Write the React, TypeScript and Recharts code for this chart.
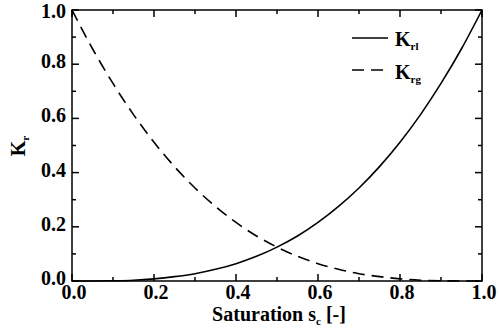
import { LineChart, Line, XAxis, YAxis, ReferenceArea, Legend } from 'recharts';

const saturation = [0, 0.05, 0.1, 0.15, 0.2, 0.25, 0.3, 0.35, 0.4, 0.45, 0.5, 0.55, 0.6, 0.65, 0.7, 0.75, 0.8, 0.85, 0.9, 0.95, 1.0];
const krl = [0, 0.0001, 0.001, 0.003, 0.008, 0.016, 0.027, 0.043, 0.064, 0.091, 0.125, 0.166, 0.216, 0.275, 0.343, 0.422, 0.512, 0.614, 0.729, 0.857, 1.0];
const krg = [1.0, 0.857, 0.729, 0.614, 0.512, 0.422, 0.343, 0.275, 0.216, 0.166, 0.125, 0.091, 0.064, 0.043, 0.027, 0.016, 0.008, 0.003, 0.001, 0.0001, 0];
const ticks = [0, 0.1, 0.2, 0.3, 0.4, 0.5, 0.6, 0.7, 0.8, 0.9, 1.0];
const legendItems = [
  { key: 'krl', sub: 'rl', dash: undefined },
  { key: 'krg', sub: 'rg', dash: '12 7' },
];

const data = saturation.map((s, i) => ({ s, krl: krl[i], krg: krg[i] }));

const FONT = 'Liberation Serif, Tinos, DejaVu Serif, serif';
const textStyle: React.CSSProperties = { fontFamily: FONT, fontWeight: 'bold', fontSize: 20 };
const PLOT_LEFT = 72;
const PLOT_RIGHT = 482;
const PLOT_TOP = 10;
const PLOT_BOTTOM = 281;

const isMajor = (v: number) => Math.round(v * 10) % 2 === 0;

function XTick(props: any) {
  const { x, payload } = props;
  const v = payload.value;
  const len = isMajor(v) ? 7 : 4;
  return (
    <g>
      <line x1={x} x2={x} y1={PLOT_BOTTOM} y2={PLOT_BOTTOM - len} stroke="#000" strokeWidth={1.5} />
      <line x1={x} x2={x} y1={PLOT_TOP} y2={PLOT_TOP + len} stroke="#000" strokeWidth={1.5} />
      {isMajor(v) && (
        <text x={x + 2} y={PLOT_BOTTOM + 18} textAnchor="middle" style={textStyle} fill="#000">
          {v.toFixed(1)}
        </text>
      )}
    </g>
  );
}

function YTick(props: any) {
  const { y, payload } = props;
  const v = payload.value;
  const len = isMajor(v) ? 7 : 4;
  // top label sits a little lower so it stays inside the picture
  const dy = v === 1 ? 8 : 4;
  return (
    <g>
      <line x1={PLOT_LEFT} x2={PLOT_LEFT + len} y1={y} y2={y} stroke="#000" strokeWidth={1.5} />
      <line x1={PLOT_RIGHT} x2={PLOT_RIGHT - len} y1={y} y2={y} stroke="#000" strokeWidth={1.5} />
      {isMajor(v) && (
        <text x={PLOT_LEFT - 6} y={y + dy} textAnchor="end" style={textStyle} fill="#000">
          {v.toFixed(1)}
        </text>
      )}
    </g>
  );
}

function LegendBox() {
  return (
    <svg width={110} height={75}>
      {legendItems.map((item, i) => (
        <g key={item.key}>
          <line x1={7} x2={43} y1={16 + i * 32} y2={16 + i * 32} stroke="#000" strokeWidth={1.6} strokeDasharray={item.dash} />
          <text x={50} y={24 + i * 33} style={textStyle} fill="#000">
            K<tspan style={{ fontSize: 11 }} dy={4}>{item.sub}</tspan>
          </text>
        </g>
      ))}
    </svg>
  );
}

export default function App() {
  return (
    <div style={{ position: 'absolute', left: 0, top: 0, width: 499, height: 330, background: '#fff' }}>
      <LineChart width={499} height={330} data={data} margin={{ top: PLOT_TOP, right: 499 - PLOT_RIGHT, bottom: 0, left: 0 }}>
        <XAxis
          dataKey="s"
          type="number"
          domain={[0, 1]}
          ticks={ticks}
          interval={0}
          height={330 - PLOT_BOTTOM}
          axisLine={false}
          tickLine={false}
          tick={<XTick />}
          label={{
            content: () => (
              <text x={279} y={321} textAnchor="middle" style={textStyle} fill="#000">
                Saturation s<tspan style={{ fontSize: 11 }} dy={4}>c</tspan>
                <tspan dy={-4}> [-]</tspan>
              </text>
            ),
          }}
        />
        <YAxis
          type="number"
          domain={[0, 1]}
          ticks={ticks}
          interval={0}
          width={PLOT_LEFT}
          axisLine={false}
          tickLine={false}
          tick={<YTick />}
          label={{
            content: () => (
              <text transform="rotate(-90, 25, 146)" x={25} y={146} textAnchor="middle" style={textStyle} fill="#000">
                K<tspan style={{ fontSize: 11 }} dy={4}>r</tspan>
              </text>
            ),
          }}
        />
        <ReferenceArea x1={0} x2={1} y1={0} y2={1} fill="none" fillOpacity={0} stroke="#000" strokeWidth={1.5} />
        <Line type="monotone" dataKey="krl" name="rl" stroke="#000" strokeWidth={1.6} dot={false} isAnimationActive={false} />
        <Line type="monotone" dataKey="krg" name="rg" stroke="#000" strokeWidth={1.6} strokeDasharray="12 7" dot={false} isAnimationActive={false} />
        <Legend
          layout="vertical"
          align="center"
          verticalAlign="middle"
          content={<LegendBox />}
          wrapperStyle={{ left: 345, top: 22, width: 110, height: 75 }}
        />
      </LineChart>
    </div>
  );
}
